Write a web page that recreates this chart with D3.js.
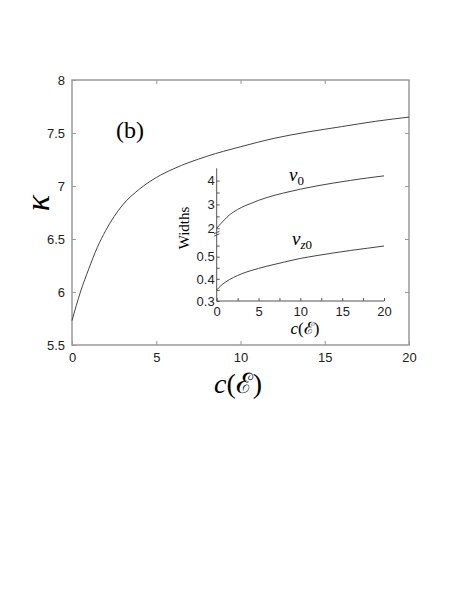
<!DOCTYPE html>
<html>
<head>
<meta charset="utf-8">
<script src="https://cdn.jsdelivr.net/npm/d3@7"></script>
<style>
  body { margin: 0; background: #fff; }
  .tick text { font-family: "Liberation Sans", Arial, sans-serif; font-size: 13px; fill: #222; }
  .serif { font-family: "Liberation Serif", "DejaVu Serif", serif; }
</style>
</head>
<body>
<svg width="463" height="599"></svg>
<script>
// values
var cVals   = [0, 0.25, 0.5, 1, 1.5, 2, 3, 4, 5, 6, 8, 10, 12, 14, 16, 18, 20];
var kappa   = [5.73, 5.87, 6.00, 6.22, 6.42, 6.58, 6.82, 6.97, 7.08, 7.16, 7.28, 7.37, 7.45, 7.51, 7.56, 7.61, 7.65];
var v0      = [2.0, 2.1, 2.2, 2.38, 2.55, 2.68, 2.88, 3.03, 3.17, 3.29, 3.48, 3.64, 3.78, 3.90, 4.01, 4.11, 4.20];
var vz0     = [0.350, 0.360, 0.369, 0.384, 0.396, 0.406, 0.423, 0.436, 0.447, 0.457, 0.475, 0.492, 0.505, 0.517, 0.528, 0.538, 0.548];

var xTicks = [0, 5, 10, 15, 20];
var kTicks = [5.5, 6, 6.5, 7, 7.5, 8];
var insetXTicks = [0, 2.5, 5, 7.5, 10, 12.5, 15, 17.5, 20];
var topTicks = [2, 2.5, 3, 3.5, 4];
var botTicks = [0.3, 0.35, 0.4, 0.45, 0.5, 0.55];

var svg = d3.select("svg");
var frameCol = "#999", lineCol = "#444";

// main axes
var x = d3.scaleLinear().domain([0, 20]).range([72, 409]),
    y = d3.scaleLinear().domain([5.5, 8]).range([345, 80]);

svg.append("rect")
    .attr("x", 72).attr("y", 80)
    .attr("width", 409 - 72).attr("height", 345 - 80)
    .attr("fill", "none").attr("stroke", frameCol).attr("stroke-width", 1.5);

// inward ticks on all four sides
svg.append("g").attr("transform", "translate(0,345)")
    .call(d3.axisBottom(x).tickValues(xTicks).tickSize(-4).tickPadding(8).tickFormat(d3.format("d")))
    .call(function(g) { g.select(".domain").remove(); g.selectAll("line").attr("stroke", frameCol); });
svg.append("g").attr("transform", "translate(0,80)")
    .call(d3.axisTop(x).tickValues(xTicks.slice(1, 4)).tickSize(-4).tickFormat(""))
    .call(function(g) { g.select(".domain").remove(); g.selectAll("line").attr("stroke", frameCol); });
svg.append("g").attr("transform", "translate(72,0)")
    .call(d3.axisLeft(y).tickValues(kTicks).tickSize(-4).tickPadding(7).tickFormat(function(d) { return d; }))
    .call(function(g) { g.select(".domain").remove(); g.selectAll("line").attr("stroke", frameCol); });
svg.append("g").attr("transform", "translate(409,0)")
    .call(d3.axisRight(y).tickValues(kTicks.slice(1, 5)).tickSize(-4).tickFormat(""))
    .call(function(g) { g.select(".domain").remove(); g.selectAll("line").attr("stroke", frameCol); });

var line = d3.line()
    .x(function(d) { return x(d[0]); })
    .y(function(d) { return y(d[1]); })
    .curve(d3.curveMonotoneX);

svg.append("path")
    .attr("d", line(d3.zip(cVals, kappa)))
    .attr("fill", "none").attr("stroke", lineCol).attr("stroke-width", 1);

svg.append("text").attr("class", "serif")
    .attr("x", 116).attr("y", 138)
    .style("font-size", "24px")
    .text("(b)");

svg.append("text").attr("class", "serif")
    .attr("transform", "translate(49,203) rotate(-90)")
    .attr("text-anchor", "middle")
    .style("font-size", "34px").style("font-style", "italic")
    .text("κ");

svg.append("text").attr("class", "serif")
    .attr("x", 238).attr("y", 393)
    .attr("text-anchor", "middle")
    .style("font-size", "28px")
    .html("<tspan font-style='italic'>c</tspan>(ℰ)");

// inset
var ix = d3.scaleLinear().domain([0, 20]).range([216.7, 384]),
    iyTop = d3.scaleLinear().domain([1.8, 4.5]).range([233, 168.7]),
    iyBot = d3.scaleLinear().domain([0.3, 0.6]).range([301, 234.5]);
var inset = svg.append("g");
var insetCol = "#555";

inset.append("g").attr("transform", "translate(0,301)")
    .call(d3.axisBottom(ix).tickValues(insetXTicks).tickSize(-3).tickPadding(6)
      .tickFormat(function(d) { return d % 5 == 0 ? d : ""; }))
    .call(function(g) { g.select(".domain").remove(); g.selectAll("line").attr("stroke", insetCol); });
inset.append("g").attr("transform", "translate(216.7,0)")
    .call(d3.axisLeft(iyTop).tickValues(topTicks).tickSize(-3).tickPadding(2)
      .tickFormat(function(d) { return d % 1 == 0 ? d : ""; }))
    .call(function(g) { g.select(".domain").remove(); g.selectAll("line").attr("stroke", insetCol); });
inset.append("g").attr("transform", "translate(216.7,0)")
    .call(d3.axisLeft(iyBot).tickValues(botTicks).tickSize(-3).tickPadding(2)
      .tickFormat(function(d) { return Math.round(d * 100) % 10 == 0 ? d : ""; }))
    .call(function(g) { g.select(".domain").remove(); g.selectAll("line").attr("stroke", insetCol); });

inset.append("line")
    .attr("x1", 216.7).attr("x2", 216.7).attr("y1", 168.3).attr("y2", 301)
    .attr("stroke", insetCol).attr("stroke-width", 1);
inset.append("line")
    .attr("x1", 216.7).attr("x2", 384).attr("y1", 301).attr("y2", 301)
    .attr("stroke", insetCol).attr("stroke-width", 1);
// axis break marks
[232.5, 235].forEach(function(yy) {
  inset.append("line")
      .attr("x1", 214).attr("x2", 219.5).attr("y1", yy + 1.2).attr("y2", yy - 1.2)
      .attr("stroke", insetCol).attr("stroke-width", 1);
});

var lineTop = d3.line()
    .x(function(d) { return ix(d[0]); })
    .y(function(d) { return iyTop(d[1]); })
    .curve(d3.curveMonotoneX);
var lineBot = d3.line()
    .x(function(d) { return ix(d[0]); })
    .y(function(d) { return iyBot(d[1]); })
    .curve(d3.curveMonotoneX);

inset.append("path")
    .attr("d", lineTop(d3.zip(cVals, v0)))
    .attr("fill", "none").attr("stroke", lineCol).attr("stroke-width", 1);
inset.append("path")
    .attr("d", lineBot(d3.zip(cVals, vz0)))
    .attr("fill", "none").attr("stroke", lineCol).attr("stroke-width", 1);

inset.append("text").attr("class", "serif")
    .attr("x", 289).attr("y", 181)
    .style("font-size", "19px")
    .html("<tspan font-style='italic'>v</tspan><tspan font-size='13px' dy='4'>0</tspan>");
inset.append("text").attr("class", "serif")
    .attr("x", 292).attr("y", 245)
    .style("font-size", "19px")
    .html("<tspan font-style='italic'>v</tspan><tspan font-size='13px' dy='4'><tspan font-style='italic'>z</tspan>0</tspan>");

inset.append("text").attr("class", "serif")
    .attr("transform", "translate(189,228) rotate(-90)")
    .attr("text-anchor", "middle")
    .style("font-size", "15px")
    .text("Widths");

inset.append("text").attr("class", "serif")
    .attr("x", 305).attr("y", 334)
    .attr("text-anchor", "middle")
    .style("font-size", "17px")
    .html("<tspan font-style='italic'>c</tspan>(ℰ)");
</script>
</body>
</html>
